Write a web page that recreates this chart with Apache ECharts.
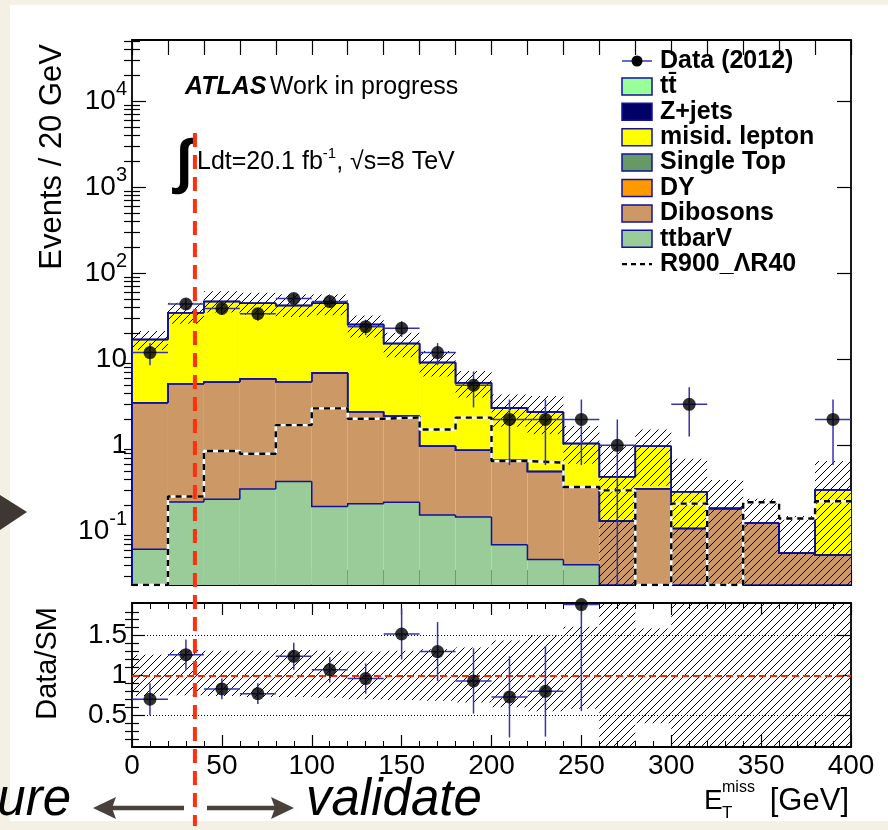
<!DOCTYPE html>
<html><head><meta charset="utf-8">
<script src="https://cdn.jsdelivr.net/npm/echarts@6/dist/echarts.min.js"></script>
<style>html,body{margin:0;padding:0;background:#f4f0e4;}#c{width:888px;height:830px;}</style>
</head><body><div id="c"></div>
<script>
// ---------------- data ----------------
const binEdges = [0,20,40,60,80,100,120,140,160,180,200,220,240,260,280,300,320,340,360,380,400];
const dataCounts = [12,44,39,34,51,47,24,23,12,5,2,2,2,1,0,3,0,0,0,2];
const dataErr    = [3.46,6.63,6.24,5.83,7.14,6.86,4.90,4.80,3.46,2.24,1.41,1.41,1.41,1.00,0,1.73,0,0,0,1.41];
const ttbarV     = [0.062,0.219,0.236,0.311,0.379,0.195,0.210,0.218,0.155,0.147,0.070,0.047,0.041,0,0,0,0,0,0,0];
const dibosons   = [3.07,4.99,5.20,5.64,5.12,6.73,2.25,1.97,0.83,0.73,0.60,0.45,0.29,0.132,0.314,0.108,0.184,0.124,0.056,0.053];
const dy         = [0,0,0,0,0,0,0,0,0,0,0,0,0,0,0,0,0,0,0,0];
const singleTop  = [0,0,0,0,0,0,0,0,0,0,0,0,0,0,0,0,0,0,0,0];
const misid      = [13.9,29.6,41.7,39.0,36.8,38.1,23.0,13.1,8.23,4.47,2.04,1.94,0.72,0.30,0.66,0.18,0,0,0,0.25];
const zjets      = [0,0,0,0,0,0,0,0,0,0,0,0,0,0,0,0,0,0,0,0];
const ttbar      = [0,0,0,0,0,0,0,0,0,0,0,0,0,0,0,0,0,0,0,0];
const signalR900 = [0,0.254,0.86,0.80,1.72,2.69,2.04,2.11,1.53,2.10,0.657,0.63,0.328,0.30,0,0.21,0,0.218,0.141,0.224];
const bandLo     = [12.8,26,35,33,31,32.5,17.9,10.6,6.3,3.6,1.65,1.35,0.61,0,0.34,0,0,0,0,0];
const bandHi     = [21.3,45.5,62,59.4,57,56.8,32.4,20.4,12.5,7.3,3.91,3.74,1.68,0.98,1.53,0.70,0.395,0.24,0.151,0.657];
const ratioVals  = [0.70,1.26,0.83,0.77,1.24,1.07,0.96,1.52,1.30,0.93,0.73,0.80,1.89,null,null,null,null,null,null,null];
const ratioErr   = [0.20,0.19,0.13,0.13,0.17,0.16,0.19,0.32,0.37,0.41,0.51,0.57,1.34,null,null,null,null,null,null,null];
const ratioBandLo= [0.74,0.75,0.74,0.73,0.73,0.72,0.70,0.69,0.68,0.66,0.60,0.55,0.58,0,0.40,0,0,0,0,0];
const ratioBandHi= [1.26,1.32,1.31,1.31,1.32,1.31,1.30,1.31,1.33,1.35,1.44,1.50,1.61,2.26,1.59,2.44,2.15,1.94,2.70,2.17];
const cutValue = 35;
const xTickLabels = [0,50,100,150,200,250,300,350,400];
const yMajorTicks = [0.1,1,10,100,1000,10000];
const ratioLabels = [0.5,1,1.5];
const legendLabels = ['Data (2012)','tt\u0304','Z+jets','misid. lepton','Single Top','DY','Dibosons','ttbarV','R900_\u039BR40'];

// ---------------- styling ----------------
const FONT = "'Liberation Sans', Arial, Helvetica, sans-serif";
const yMin = 0.0238, yMax = 51600, rMin = 0.1, rMax = 1.91;
const OUTLINE = '#12129c', ERRC = '#3434b0';
const layers = [
  {name:'ttbarV', vals:ttbarV, color:'#99cc99'},
  {name:'Dibosons', vals:dibosons, color:'#cc9966'},
  {name:'DY', vals:dy, color:'#ff9900'},
  {name:'Single Top', vals:singleTop, color:'#669966'},
  {name:'misid. lepton', vals:misid, color:'#ffff00'},
  {name:'Z+jets', vals:zjets, color:'#000066'},
  {name:'tt\u0304', vals:ttbar, color:'#99ff99'}
];
const legendColors = [null,'#99ff99','#000066','#ffff00','#669966','#ff9900','#cc9966','#99cc99',null];

const nb = binEdges.length - 1;
const lo = binEdges.slice(0, nb), hi = binEdges.slice(1);
const cl = v => Math.max(v, yMin);
const cum = [];
layers.forEach((L,k)=>{ cum.push(L.vals.map((v,i)=> (k? cum[k-1][i]:0) + v)); });

function hatch(){
  const s = 8, c = document.createElement('canvas'); c.width = s; c.height = s;
  const g = c.getContext('2d'); g.strokeStyle = '#000'; g.lineWidth = 1;
  g.beginPath();
  g.moveTo(0,s); g.lineTo(s,0);
  g.moveTo(-s/2,s/2); g.lineTo(s/2,-s/2);
  g.moveTo(s/2,s*1.5); g.lineTo(s*1.5,s/2);
  g.stroke();
  return {image:c, repeat:'repeat'};
}
const HATCH = hatch();

const series = [];
layers.forEach((L,k)=>{
  series.push({
    type:'custom', xAxisIndex:0, yAxisIndex:0, clip:true, silent:true, z:2,
    encode:{x:[0,1], y:[2,3]},
    data: lo.map((x,i)=>[x, hi[i], cl(k? cum[k-1][i]:0), cl(cum[k][i])]),
    renderItem:(p, api)=>{
      const b = api.value(2), t = api.value(3);
      if (!(t > b)) return null;
      const a = api.coord([api.value(0), t]), c = api.coord([api.value(1), b]);
      return {type:'rect', shape:{x:a[0], y:a[1], width:c[0]-a[0], height:c[1]-a[1]}, style:{fill:L.color}};
    }
  });
});
layers.forEach((L,k)=>{
  series.push({
    type:'custom', xAxisIndex:0, yAxisIndex:0, clip:true, silent:true, z:3,
    encode:{x:[0,1], y:[2,3]},
    data: lo.map((x,i)=>[x, hi[i], cl(cum[k][i]), cl(i? cum[k][i-1] : 0)]),
    renderItem:(p, api)=>{
      const x0 = api.value(0), x1 = api.value(1), t = api.value(2), pt = api.value(3);
      const A = api.coord([x0, pt]), B = api.coord([x0, t]), C = api.coord([x1, t]);
      return {type:'polyline', shape:{points:[A,B,C]}, style:{stroke:OUTLINE, lineWidth:1.5, fill:null}};
    }
  });
});
series.push({
  type:'custom', xAxisIndex:0, yAxisIndex:0, clip:true, silent:true, z:4,
  encode:{x:[0,1], y:[2,3]},
  data: lo.map((x,i)=>[x, hi[i], cl(bandLo[i]), cl(bandHi[i])]),
  renderItem:(p, api)=>{
    const a = api.coord([api.value(0), api.value(3)]), c = api.coord([api.value(1), api.value(2)]);
    return {type:'rect', shape:{x:a[0], y:a[1], width:c[0]-a[0], height:c[1]-a[1]}, style:{fill:HATCH}};
  }
});
const sigData = lo.map((x,i)=>[x, cl(signalR900[i])]).concat([[binEdges[nb], cl(signalR900[nb-1])]]);
series.push({type:'line', xAxisIndex:0, yAxisIndex:0, step:'end', symbol:'none', silent:true, z:5, data:sigData,
  lineStyle:{color:'#fff', width:2.4}});
series.push({type:'line', xAxisIndex:0, yAxisIndex:0, step:'end', symbol:'none', silent:true, z:6, data:sigData,
  lineStyle:{color:'#000', width:2.4, type:[6,5]}});
const dataIdx = dataCounts.map((v,i)=>i).filter(i=>dataCounts[i]>0);
series.push({
  type:'custom', xAxisIndex:0, yAxisIndex:0, clip:true, silent:true, z:7,
  encode:{x:[0,4,5], y:[1,2,3]},
  data: dataIdx.map(i=>[(lo[i]+hi[i])/2, dataCounts[i], cl(dataCounts[i]-dataErr[i]), dataCounts[i]+dataErr[i], lo[i], hi[i]]),
  renderItem:(p, api)=>{
    const xc = api.value(0), v = api.value(1);
    const h0 = api.coord([api.value(4), v]), h1 = api.coord([api.value(5), v]);
    const v0 = api.coord([xc, api.value(2)]), v1 = api.coord([xc, api.value(3)]);
    return {type:'group', children:[
      {type:'line', shape:{x1:h0[0], y1:h0[1], x2:h1[0], y2:h1[1]}, style:{stroke:ERRC, lineWidth:1.5}},
      {type:'line', shape:{x1:v0[0], y1:v0[1], x2:v1[0], y2:v1[1]}, style:{stroke:ERRC, lineWidth:1.5}}
    ]};
  }
});
series.push({type:'scatter', xAxisIndex:0, yAxisIndex:0, symbol:'circle', symbolSize:13, silent:true, z:8,
  itemStyle:{color:'#000'}, data: dataIdx.map(i=>[(lo[i]+hi[i])/2, dataCounts[i]])});

series.push({
  type:'custom', xAxisIndex:2, yAxisIndex:4, clip:true, silent:true, z:3,
  encode:{x:[0,1], y:[2,3]},
  data: lo.map((x,i)=>[x, hi[i], ratioBandLo[i], ratioBandHi[i]]),
  renderItem:(p, api)=>{
    const a = api.coord([api.value(0), Math.min(api.value(3), rMax)]), c = api.coord([api.value(1), Math.max(api.value(2), rMin)]);
    return {type:'rect', shape:{x:a[0], y:a[1], width:c[0]-a[0], height:c[1]-a[1]}, style:{fill:HATCH}};
  },
  markLine:{silent:true, symbol:['none','none'], label:{show:false}, animation:false,
    data:[
      {yAxis:1.5, lineStyle:{color:'#000', type:[1,2], width:1}},
      {yAxis:0.5, lineStyle:{color:'#000', type:[1,2], width:1}},
      {yAxis:1, lineStyle:{color:'#ff2200', type:[7,4], width:2}}
    ]}
});
const rIdx = ratioVals.map((v,i)=>i).filter(i=>ratioVals[i]!=null);
series.push({
  type:'custom', xAxisIndex:2, yAxisIndex:4, clip:true, silent:true, z:7,
  encode:{x:[0,4,5], y:[1,2,3]},
  data: rIdx.map(i=>[(lo[i]+hi[i])/2, ratioVals[i], ratioVals[i]-ratioErr[i], ratioVals[i]+ratioErr[i], lo[i], hi[i]]),
  renderItem:(p, api)=>{
    const xc = api.value(0), v = api.value(1);
    const h0 = api.coord([api.value(4), v]), h1 = api.coord([api.value(5), v]);
    const v0 = api.coord([xc, Math.max(api.value(2), rMin)]), v1 = api.coord([xc, Math.min(api.value(3), rMax)]);
    return {type:'group', children:[
      {type:'line', shape:{x1:h0[0], y1:h0[1], x2:h1[0], y2:h1[1]}, style:{stroke:ERRC, lineWidth:1.5}},
      {type:'line', shape:{x1:v0[0], y1:v0[1], x2:v1[0], y2:v1[1]}, style:{stroke:ERRC, lineWidth:1.5}}
    ]};
  }
});
series.push({type:'scatter', xAxisIndex:2, yAxisIndex:4, symbol:'circle', symbolSize:13, silent:true, z:8,
  itemStyle:{color:'#000'}, data: rIdx.map(i=>[(lo[i]+hi[i])/2, ratioVals[i]])});

// ---------------- axes ----------------
const AL = {show:true, onZero:false, lineStyle:{color:'#000', width:1.8}};
const TK = (len, extra) => Object.assign({show:true, inside:true, length:len, lineStyle:{color:'#000', width:1.2}}, extra||{});
const logMinor = [];
for (let e=-2; e<=4; e++) for (let k=2; k<=9; k++){ const v = +(k*Math.pow(10,e)).toPrecision(3); if (v>yMin && v<yMax) logMinor.push(v); }
const ratioMinor = [];
for (let k=2; k<=18; k++){ const v = k/10; if (Math.abs(v-0.5)>1e-9 && Math.abs(v-1)>1e-9 && Math.abs(v-1.5)>1e-9) ratioMinor.push(+v.toFixed(1)); }
function logLabel(v){
  const e = Math.round(Math.log10(v));
  if (e === 0) return '{b|1}';
  if (e === 1) return '{b|10}';
  return '{b|10}{s|' + e + '}';
}
const RICH = {b:{fontSize:28, fontFamily:FONT, color:'#000', lineHeight:44}, s:{fontSize:20, fontFamily:FONT, color:'#000', verticalAlign:'top', lineHeight:20}};
const TL = {fontSize:28, fontFamily:FONT, color:'#000'};

const xAxis = [
  {gridIndex:0, type:'value', min:0, max:400, interval:20, position:'bottom', axisLine:AL, axisTick:TK(15), axisLabel:{show:false}, splitLine:{show:false}},
  {gridIndex:0, type:'value', min:0, max:400, interval:20, position:'top', axisLine:AL, axisTick:TK(15), axisLabel:{show:false}, splitLine:{show:false}},
  {gridIndex:1, type:'value', min:0, max:400, interval:50, position:'bottom', axisLine:AL, axisTick:TK(12),
    minorTick:{show:true, splitNumber:5, length:6, lineStyle:{color:'#000', width:1}},
    axisLabel:Object.assign({show:true, margin:5, customValues:xTickLabels}, TL), splitLine:{show:false}},
  {gridIndex:1, type:'value', min:0, max:400, interval:50, position:'top', axisLine:AL, axisTick:TK(12),
    minorTick:{show:true, splitNumber:5, length:6, lineStyle:{color:'#000', width:1}}, axisLabel:{show:false}, splitLine:{show:false}}
];
const yAxis = [
  {gridIndex:0, type:'log', min:yMin, max:yMax, position:'left', axisLine:AL, axisTick:TK(14,{customValues:yMajorTicks}),
    axisLabel:{show:true, customValues:yMajorTicks, formatter:logLabel, rich:RICH, margin:5}, splitLine:{show:false}},
  {gridIndex:0, type:'log', min:yMin, max:yMax, position:'left', axisLine:{show:false}, axisTick:TK(8,{customValues:logMinor}), axisLabel:{show:false}, splitLine:{show:false}},
  {gridIndex:0, type:'log', min:yMin, max:yMax, position:'right', axisLine:AL, axisTick:TK(14,{customValues:yMajorTicks}), axisLabel:{show:false}, splitLine:{show:false}},
  {gridIndex:0, type:'log', min:yMin, max:yMax, position:'right', axisLine:{show:false}, axisTick:TK(8,{customValues:logMinor}), axisLabel:{show:false}, splitLine:{show:false}},
  {gridIndex:1, type:'value', min:rMin, max:rMax, position:'left', axisLine:AL, axisTick:TK(13,{customValues:ratioLabels}),
    axisLabel:Object.assign({show:true, customValues:ratioLabels, margin:5}, TL), splitLine:{show:false}},
  {gridIndex:1, type:'value', min:rMin, max:rMax, position:'left', axisLine:{show:false}, axisTick:TK(7,{customValues:ratioMinor}), axisLabel:{show:false}, splitLine:{show:false}},
  {gridIndex:1, type:'value', min:rMin, max:rMax, position:'right', axisLine:AL, axisTick:TK(13,{customValues:ratioLabels}), axisLabel:{show:false}, splitLine:{show:false}},
  {gridIndex:1, type:'value', min:rMin, max:rMax, position:'right', axisLine:{show:false}, axisTick:TK(7,{customValues:ratioMinor}), axisLabel:{show:false}, splitLine:{show:false}}
];

const option = {
  animation:false,
  backgroundColor:'#f4f0e4',
  grid:[
    {left:132, right:37, top:40, height:545, containLabel:false, outerBoundsMode:'none'},
    {left:132, right:37, top:603, height:144, containLabel:false, outerBoundsMode:'none'}
  ],
  xAxis, yAxis, series
};

const chart = echarts.init(document.getElementById('c'), null, {renderer:'canvas', width:888, height:830});
chart.setOption(option);

// ---------------- annotations ----------------
const cutX = chart.convertToPixel({xAxisIndex:0}, cutValue);
const G = [];
G.push({type:'rect', z:-100, silent:true, shape:{x:10, y:5, width:878, height:816}, style:{fill:'#fff'}});
G.push({type:'polygon', z:50, silent:true, shape:{points:[[0,495],[27,512],[0,530]]}, style:{fill:'#3f3734'}});
G.push({type:'text', z:50, x:52, y:44, rotation:Math.PI/2, silent:true,
  style:{text:'Events / 20 GeV', font:'31px '+FONT, fill:'#000', align:'right', verticalAlign:'middle'}});
G.push({type:'text', z:50, x:48, y:607, rotation:Math.PI/2, silent:true,
  style:{text:'Data/SM', font:'29px '+FONT, fill:'#000', align:'right', verticalAlign:'middle'}});
G.push({type:'text', z:50, x:185, y:87, silent:true, style:{text:'{a|ATLAS} {b|Work in progress}', align:'left', verticalAlign:'middle',
  rich:{a:{fontSize:25, fontFamily:FONT, fontWeight:'bold', fontStyle:'italic', fill:'#000'}, b:{fontSize:25, fontFamily:FONT, fill:'#000'}}}});
G.push({type:'text', z:50, x:176, y:164, silent:true, style:{text:'\u222B', font:'bold 60px '+FONT, fill:'#000', align:'left', verticalAlign:'middle'}});
G.push({type:'text', z:50, x:197, y:162, silent:true, style:{text:'{n|Ldt=20.1 fb}{s|-1}{n|, \u221As=8 TeV}', align:'left', verticalAlign:'middle',
  rich:{n:{fontSize:25, fontFamily:FONT, fill:'#000', lineHeight:32}, s:{fontSize:15, fontFamily:FONT, fill:'#000', verticalAlign:'top', lineHeight:14}}}});
legendLabels.forEach((lab, i)=>{
  const cy = 61 + i*25.4;
  if (i === 0){
    G.push({type:'line', z:50, silent:true, shape:{x1:622, y1:cy, x2:652, y2:cy}, style:{stroke:ERRC, lineWidth:1.5}});
    G.push({type:'circle', z:51, silent:true, shape:{cx:637, cy:cy, r:5.5}, style:{fill:'#000'}});
  } else if (i === legendLabels.length-1){
    G.push({type:'line', z:50, silent:true, shape:{x1:622, y1:cy, x2:652, y2:cy}, style:{stroke:'#000', lineWidth:2.2, lineDash:[5,4]}});
  } else {
    G.push({type:'rect', z:50, silent:true, shape:{x:622, y:cy-8.5, width:30, height:17}, style:{fill:legendColors[i], stroke:OUTLINE, lineWidth:1.5}});
  }
  G.push({type:'text', z:50, x:660, y:cy, silent:true, style:{text:lab, font:'bold 25px '+FONT, fill:'#000', align:'left', verticalAlign:'middle'}});
});
G.push({type:'text', z:50, x:704, y:801, silent:true, style:{text:'E', font:'28px '+FONT, fill:'#000', align:'left', verticalAlign:'middle'}});
G.push({type:'text', z:50, x:722, y:788, silent:true, style:{text:'miss', font:'16px '+FONT, fill:'#000', align:'left', verticalAlign:'middle'}});
G.push({type:'text', z:50, x:722, y:813, silent:true, style:{text:'T', font:'17px '+FONT, fill:'#000', align:'left', verticalAlign:'middle'}});
G.push({type:'text', z:50, x:849, y:801, silent:true, style:{text:'[GeV]', font:'31px '+FONT, fill:'#000', align:'right', verticalAlign:'middle'}});
const AC = '#4a403c';
G.push({type:'text', z:50, x:71, y:801, silent:true, style:{text:'ure', font:'italic 51px '+FONT, fill:'#000', align:'right', verticalAlign:'middle'}});
G.push({type:'text', z:50, x:306, y:801, silent:true, style:{text:'validate', font:'italic 51px '+FONT, fill:'#000', align:'left', verticalAlign:'middle'}});
G.push({type:'line', z:50, silent:true, shape:{x1:110, y1:808, x2:184, y2:808}, style:{stroke:AC, lineWidth:4.5}});
G.push({type:'polygon', z:50, silent:true, shape:{points:[[93,808],[116,797],[112,808],[116,819]]}, style:{fill:AC}});
G.push({type:'line', z:50, silent:true, shape:{x1:207, y1:808, x2:278, y2:808}, style:{stroke:AC, lineWidth:4.5}});
G.push({type:'polygon', z:50, silent:true, shape:{points:[[294,808],[271,797],[275,808],[271,819]]}, style:{fill:AC}});
G.push({type:'line', z:100, silent:true, shape:{x1:cutX, y1:133, x2:cutX, y2:826}, style:{stroke:'#ff3010', lineWidth:4, lineDash:[14,8]}});
chart.setOption({graphic: G});
</script>
</body></html>
